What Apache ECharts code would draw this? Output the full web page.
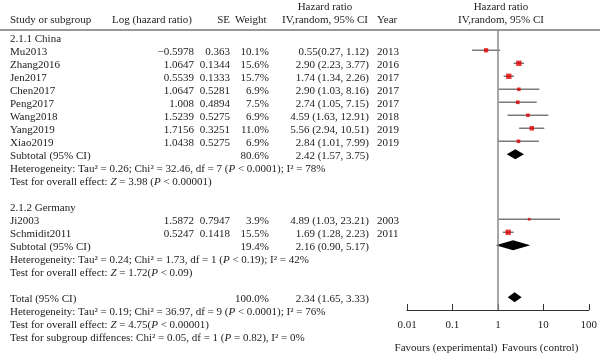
<!DOCTYPE html>
<html><head><meta charset="utf-8">
<script src="https://cdn.jsdelivr.net/npm/echarts@6/dist/echarts.min.js"></script>
<style>html,body{margin:0;padding:0;background:#fff}#c{width:600px;height:356px}</style>
</head><body><div id="c"></div>
<script>
// ---- data ----
const studies = ['Mu2013','Zhang2016','Jen2017','Chen2017','Peng2017','Wang2018','Yang2019','Xiao2019','Ji2003','Schmidit2011'];
const logHR = [-0.5978,1.0647,0.5539,1.0647,1.008,1.5239,1.7156,1.0438,1.5872,0.5247];
const se = [0.363,0.1344,0.1333,0.5281,0.4894,0.5275,0.3251,0.5275,0.7947,0.1418];
const weight = [10.1,15.6,15.7,6.9,7.5,6.9,11.0,6.9,3.9,15.5];
const hr = [0.55,2.90,1.74,2.90,2.74,4.59,5.56,2.84,4.89,1.69];
const ciLow = [0.27,2.23,1.34,1.03,1.05,1.63,2.94,1.01,1.03,1.28];
const ciHigh = [1.12,3.77,2.26,8.16,7.15,12.91,10.51,7.99,23.21,2.23];
const years = [2013,2016,2017,2017,2017,2018,2019,2019,2003,2011];
const studyRow = [1,2,3,4,5,6,7,8,14,15];

const sumNames = ['Subtotal (95% CI)','Subtotal (95% CI)','Total (95% CI)'];
const sumRow = [9,16,20];
const sumWeight = [80.6,19.4,100.0];
const sumHR = [2.42,2.16,2.34];
const sumLow = [1.57,0.90,1.65];
const sumHigh = [3.75,5.17,3.33];

const groupNames = ['2.1.1 China','2.1.2 Germany'];
const groupRow = [0,13];

const statLines = [
  'Heterogeneity: Tau² = 0.26; Chi² = 32.46, df = 7 ({i|P} < 0.0001); I² = 78%',
  'Test for overall effect: {i|Z} = 3.98 ({i|P} < 0.00001)',
  'Heterogeneity: Tau² = 0.24; Chi² = 1.73, df = 1 ({i|P} < 0.19); I² = 42%',
  'Test for overall effect: {i|Z} = 1.72({i|P} < 0.09)',
  'Heterogeneity: Tau² = 0.19; Chi² = 36.97, df = 9 ({i|P} < 0.0001); I² = 76%',
  'Test for overall effect: {i|Z} = 4.75({i|P} < 0.00001)',
  'Test for subgroup diffences: Chi² = 0.05, df = 1 ({i|P} = 0.82), I² = 0%'
];
const statRow = [10,11,17,18,21,22,23];

const tickLabels = {'0.01':'0.01','0.1':'0.1','1':'1','10':'10','100':'100'};

// ---- chart ----
const FONT = '"Liberation Serif", "DejaVu Serif", serif';
const FS = 11;
const TXT = '#222';
const chart = echarts.init(document.getElementById('c'), null, {renderer:'canvas'});

const fmtCI = (h,l,u,i) => h.toFixed(2) + (i === 0 ? '(' : ' (') + l.toFixed(2) + ', ' + u.toFixed(2) + ')';

chart.setOption({
  animation: false,
  grid: {left: 407, right: 9.5, top: 30, bottom: 46},
  xAxis: {
    type: 'log', logBase: 10, min: 0.01, max: 100, position: 'bottom',
    axisLine: {onZero: false, lineStyle: {color: '#333', width: 1}},
    axisTick: {inside: true, length: 6, lineStyle: {color: '#333', width: 1}},
    axisLabel: {color: TXT, fontFamily: FONT, fontSize: FS, margin: 10,
      formatter: v => tickLabels[String(+v.toPrecision(3))] || ''},
    splitLine: {show: false}, minorTick: {show: false}
  },
  yAxis: {type: 'value', inverse: true, min: -0.56, max: 20.98, show: false},
  series: [
    {
      type: 'custom', z: 2,
      data: studies.map((s,i) => [ciLow[i], ciHigh[i], studyRow[i]]),
      renderItem: (params, api) => {
        const a = api.coord([api.value(0), api.value(2)]);
        const b = api.coord([api.value(1), api.value(2)]);
        return {type: 'line', shape: {x1: a[0], y1: a[1], x2: b[0], y2: b[1]},
          style: {stroke: '#7a7a7a', lineWidth: 1.5}};
      },
      markLine: {
        silent: true, symbol: 'none', label: {show: false},
        lineStyle: {color: '#888', width: 1.5, type: 'solid'},
        data: [{xAxis: 1}]
      }
    },
    {
      type: 'scatter', z: 3, symbol: 'rect',
      data: studies.map((s,i) => [hr[i], studyRow[i], weight[i]]),
      symbolSize: v => 1.35 * Math.sqrt(v[2]),
      itemStyle: {color: '#e00000'}
    },
    {
      type: 'custom', z: 3,
      data: sumNames.map((s,i) => [sumLow[i], sumHR[i], sumHigh[i], sumRow[i]]),
      renderItem: (params, api) => {
        const r = api.value(3);
        const l = api.coord([api.value(0), r]);
        const m = api.coord([api.value(1), r]);
        const h = api.coord([api.value(2), r]);
        return {type: 'polygon', shape: {points: [[l[0], l[1]], [m[0], m[1]-5], [h[0], h[1]], [m[0], m[1]+5]]},
          style: {fill: '#000'}};
      }
    }
  ]
});

// ---- table text ----
const Y = row => chart.convertToPixel({gridIndex: 0}, [1, row])[1] + 2;
const g = [];
function t(text, x, y, align, extra) {
  g.push({type: 'text', x: x, y: y, silent: true,
    style: Object.assign({text: text, fill: TXT, fontFamily: FONT, fontSize: FS,
      align: align || 'left', verticalAlign: 'middle',
      rich: {i: {fontStyle: 'italic', fontFamily: FONT, fontSize: FS, fill: TXT}}}, extra || {})});
}
// headers
t('Study or subgroup', 10, 20);
t('Log (hazard ratio)', 112, 20);
t('SE', 230, 20, 'right');
t('Weight', 235, 20);
t('Hazard ratio', 325, 7, 'center');
t('IV,random, 95% CI', 325, 20, 'center');
t('Year', 377, 20);
t('Hazard ratio', 501, 7, 'center');
t('IV,random, 95% CI', 501, 20, 'center');
g.push({type: 'line', silent: true, shape: {x1: 0, y1: 30, x2: 600, y2: 30}, style: {stroke: '#777', lineWidth: 1.5}});

groupNames.forEach((n,i) => t(n, 10, Y(groupRow[i])));
studies.forEach((s,i) => {
  const y = Y(studyRow[i]);
  t(s, 10, y);
  t(logHR[i] < 0 ? '\u2212' + Math.abs(logHR[i]) : String(logHR[i]), 194, y, 'right');
  t(String(se[i]), 230, y, 'right');
  t(weight[i].toFixed(1) + '%', 269, y, 'right');
  t(fmtCI(hr[i], ciLow[i], ciHigh[i], i), 369, y, 'right');
  t(String(years[i]), 377, y);
});
sumNames.forEach((s,i) => {
  const y = Y(sumRow[i]);
  t(s, 10, y);
  t(sumWeight[i].toFixed(1) + '%', 269, y, 'right');
  t(fmtCI(sumHR[i], sumLow[i], sumHigh[i], -1), 369, y, 'right');
});
statLines.forEach((s,i) => t(s, 10, Y(statRow[i])));
t('Favours (experimental)', 446, 348, 'center', {fontSize: 11});
t('Favours (control)', 540, 348, 'center', {fontSize: 11});

chart.setOption({graphic: g});
</script>
</body></html>
